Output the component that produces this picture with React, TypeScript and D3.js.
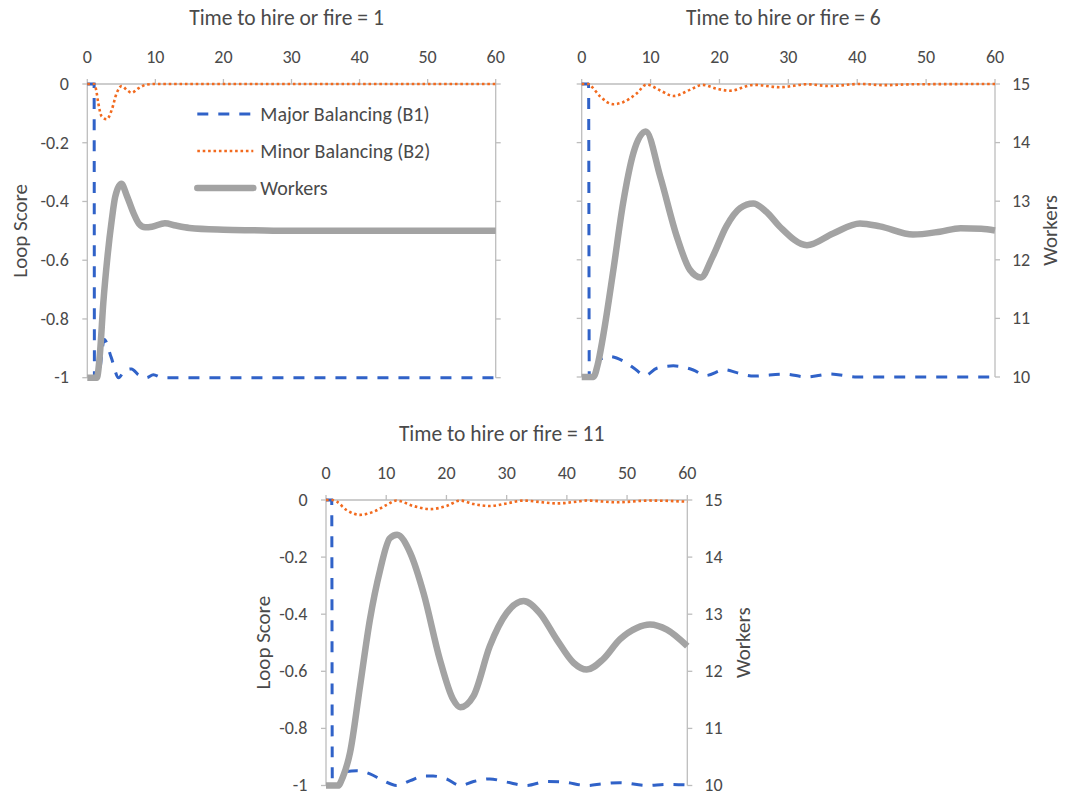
import React from 'react';
import * as d3 from 'd3';

// [time, value] pairs
const b1T1 = [[0,0],[1,0],[1.05,-1],[1.6,-1],[2.5,-0.87],[3.5,-0.93],[4.6,-1],[5.5,-0.975],[6.5,-0.97],[7.5,-0.99],[8.7,-1],[9.7,-0.99],[11,-1],[60,-1]];
const b2T1 = [[0,0],[1,0],[1.3,-0.02],[1.62,-0.066],[2.1,-0.11],[2.85,-0.12],[3.58,-0.089],[4.3,-0.032],[5.05,-0.007],[5.8,-0.02],[6.5,-0.03],[7.5,-0.015],[8.7,-0.002],[10,0],[60,0]];
const workersT1 = [[0,10],[1.4,10],[1.85,10.4],[2.35,11.27],[3,12.1],[3.6,12.69],[4.1,13.08],[5,13.3],[5.8,13.1],[6.8,12.8],[7.6,12.62],[8.5,12.56],[9.5,12.57],[11.4,12.63],[13,12.59],[15,12.55],[20,12.52],[24.5,12.51],[30,12.5],[60,12.5]];

const b1T6 = [[0,0],[1,0],[1.1,-1],[1.8,-1],[2.7,-0.94],[4.1,-0.93],[6,-0.945],[7.6,-0.97],[9.2,-0.995],[10.9,-0.97],[13.3,-0.962],[16.2,-0.976],[18,-0.995],[20.8,-0.975],[22.5,-0.985],[25,-0.997],[29.5,-0.99],[32.7,-1],[36,-0.99],[40,-1],[60,-1]];
const b2T6 = [[0,0],[1,0],[1.5,-0.01],[2.7,-0.043],[4.6,-0.069],[6,-0.062],[8,-0.032],[9.4,-0.002],[11.4,-0.022],[13.3,-0.041],[15.7,-0.02],[17.5,-0.003],[19.6,-0.016],[21.5,-0.023],[25,-0.003],[28.8,-0.011],[32.7,-0.001],[36,-0.007],[40.4,0],[44,-0.004],[48,-0.001],[60,0]];
const workersT6 = [[0,10],[1.7,10],[2.3,10.2],[3.1,10.69],[4.6,11.83],[6,12.96],[7.5,13.82],[9.3,14.19],[11.4,13.42],[13.8,12.4],[15.7,11.83],[17.3,11.7],[19,12.05],[21,12.57],[23,12.88],[24.9,12.96],[26.8,12.82],[28.8,12.56],[32.7,12.25],[36.5,12.45],[40.4,12.62],[43.3,12.57],[48.1,12.43],[52,12.48],[55,12.54],[58,12.53],[60,12.5]];

const b1T11 = [[0,0],[0.95,0],[1.05,-1],[2,-1],[2.9,-0.953],[5.1,-0.948],[7.3,-0.959],[9.5,-0.983],[11.7,-1],[14,-0.983],[16.2,-0.967],[17.8,-0.967],[20,-0.977],[22.3,-1],[24.5,-0.986],[27.2,-0.977],[30,-0.988],[33.3,-1],[36.6,-0.986],[39.4,-0.988],[43.3,-1],[46,-0.994],[48.8,-0.99],[53.3,-1],[56.6,-0.996],[60,-0.998]];
const b2T11 = [[0,0],[1,0],[1.8,-0.006],[3.4,-0.035],[5.65,-0.052],[7.9,-0.041],[10.1,-0.017],[11.7,-0.002],[14.5,-0.021],[17.3,-0.032],[20,-0.021],[22.3,-0.002],[24.5,-0.014],[27.2,-0.021],[30,-0.012],[32.8,-0.002],[35.5,-0.007],[38.3,-0.012],[41.6,-0.006],[43.3,-0.002],[48.3,-0.008],[53.8,-0.002],[60,-0.006]];
const workersT11 = [[0,10],[2,10],[2.8,10.15],[4,10.58],[5.65,11.74],[7.3,12.91],[9,13.78],[10.6,14.33],[11.8,14.39],[14,14.07],[16.2,13.37],[18.9,12.21],[21.1,11.51],[22.3,11.37],[24.5,11.57],[27.2,12.44],[30,13.02],[32.8,13.23],[35.5,13.02],[38.3,12.56],[41.1,12.15],[43.3,12.03],[46,12.21],[48.8,12.56],[51.6,12.76],[53.8,12.82],[56.6,12.73],[60,12.44]];

const seriesNames = ['Major Balancing (B1)', 'Minor Balancing (B2)', 'Workers'];
const timeDomain = [0, 60];
const scoreDomain = [-1, 0];
const workersDomain = [10, 15];

const font = 'Calibri, Carlito, Lato, sans-serif';
const textColor = '#4a4a4a';
const axisColor = '#bdbdbd';
const blue = '#3062c8';
const orange = '#f26a1e';
const gray = '#a3a3a3';

const styles = [
  { stroke: blue, width: 3, dash: '11,10' },
  { stroke: orange, width: 2.6, dash: '2.6,2.8' },
  { stroke: gray, width: 6.5, dash: null },
];

type Pt = number[];

interface PanelProps {
  title: string;
  left: number; right: number; top: number; bottom: number;
  b1: Pt[]; b2: Pt[]; workers: Pt[];
  leftLabels?: boolean; rightLabels?: boolean; legend?: boolean;
  loopLabelX?: number;
}

function Panel(props: PanelProps) {
  const { title, left, right, top, bottom, b1, b2, workers, leftLabels, rightLabels, legend, loopLabelX } = props;
  const x = d3.scaleLinear().domain(timeDomain).range([left, right]);
  const yL = d3.scaleLinear().domain(scoreDomain).range([bottom, top]);
  const yR = d3.scaleLinear().domain(workersDomain).range([bottom, top]);

  const lineL = d3.line<Pt>().x(d => x(d[0])).y(d => yL(d[1])).curve(d3.curveMonotoneX);
  const lineR = d3.line<Pt>().x(d => x(d[0])).y(d => yR(d[1])).curve(d3.curveMonotoneX);

  const xTicks = x.ticks(6);
  const lTicks = yL.ticks(5);
  const rTicks = yR.ticks(5);
  const midY = (top + bottom) / 2;

  return (
    <g fontFamily={font} fill={textColor}>
      <text x={(left + right) / 2 - 5} y={top - 59} textAnchor="middle" fontSize={21.5}>{title}</text>

      {/* top axis */}
      <line x1={left} x2={right} y1={top} y2={top} stroke={axisColor} strokeWidth={1.3} />
      {xTicks.map(t => (
        <g key={'x' + t}>
          <line x1={x(t)} x2={x(t)} y1={top} y2={top - 5} stroke={axisColor} strokeWidth={1.3} />
          <text x={x(t)} y={top - 21} textAnchor="middle" fontSize={18}>{t}</text>
        </g>
      ))}

      {/* left axis */}
      <line x1={left} x2={left} y1={top} y2={bottom} stroke={axisColor} strokeWidth={1.3} />
      {lTicks.map(t => (
        <g key={'l' + t}>
          <line x1={left - 5} x2={left} y1={yL(t)} y2={yL(t)} stroke={axisColor} strokeWidth={1.3} />
          {leftLabels && (
            <text x={left - 18.5} y={yL(t)} dy="0.32em" textAnchor="end" fontSize={18}>{String(+t.toFixed(1))}</text>
          )}
        </g>
      ))}

      {/* right axis */}
      <line x1={right} x2={right} y1={top} y2={bottom} stroke={axisColor} strokeWidth={1.3} />
      {rTicks.map(t => (
        <g key={'r' + t}>
          <line x1={right} x2={right + 5} y1={yR(t)} y2={yR(t)} stroke={axisColor} strokeWidth={1.3} />
          {rightLabels && (
            <text x={right + 17} y={yR(t)} dy="0.32em" textAnchor="start" fontSize={18}>{t}</text>
          )}
        </g>
      ))}

      {leftLabels && (
        <text transform={`translate(${loopLabelX},${midY}) rotate(-90)`} textAnchor="middle" dy="0.35em" fontSize={21}>Loop Score</text>
      )}
      {rightLabels && (
        <text transform={`translate(${right + 55},${midY}) rotate(-90)`} textAnchor="middle" dy="0.35em" fontSize={21}>Workers</text>
      )}

      <g fill="none">
        <path d={lineL(b1) || ''} stroke={styles[0].stroke} strokeWidth={styles[0].width} strokeDasharray={styles[0].dash} />
        <path d={lineL(b2) || ''} stroke={styles[1].stroke} strokeWidth={styles[1].width} strokeDasharray={styles[1].dash} />
        <path d={lineR(workers) || ''} stroke={styles[2].stroke} strokeWidth={styles[2].width} strokeLinejoin="round" />
      </g>

      {legend && seriesNames.map((name, i) => {
        const ly = top + 30 + i * 37;
        const lx = left + 110;
        return (
          <g key={name}>
            <line x1={lx} x2={lx + 56} y1={ly} y2={ly} stroke={styles[i].stroke} strokeWidth={styles[i].width}
              strokeDasharray={styles[i].dash || undefined} strokeLinecap={i === 2 ? 'round' : 'butt'} />
            <text x={lx + 63} y={ly} dy="0.35em" fontSize={20}>{name}</text>
          </g>
        );
      })}
    </g>
  );
}

export default function App() {
  return (
    <svg width={1075} height={795} style={{ position: 'absolute', left: 0, top: 0, background: '#fff' }}>
      <Panel title="Time to hire or fire = 1" left={87.3} right={495.7} top={84} bottom={377.7}
        b1={b1T1} b2={b2T1} workers={workersT1} leftLabels legend loopLabelX={20} />
      <Panel title="Time to hire or fire = 6" left={581.7} right={995} top={84} bottom={377}
        b1={b1T6} b2={b2T6} workers={workersT6} rightLabels />
      <Panel title="Time to hire or fire = 11" left={326} right={687.3} top={500} bottom={785.5}
        b1={b1T11} b2={b2T11} workers={workersT11} leftLabels rightLabels loopLabelX={263} />
    </svg>
  );
}
